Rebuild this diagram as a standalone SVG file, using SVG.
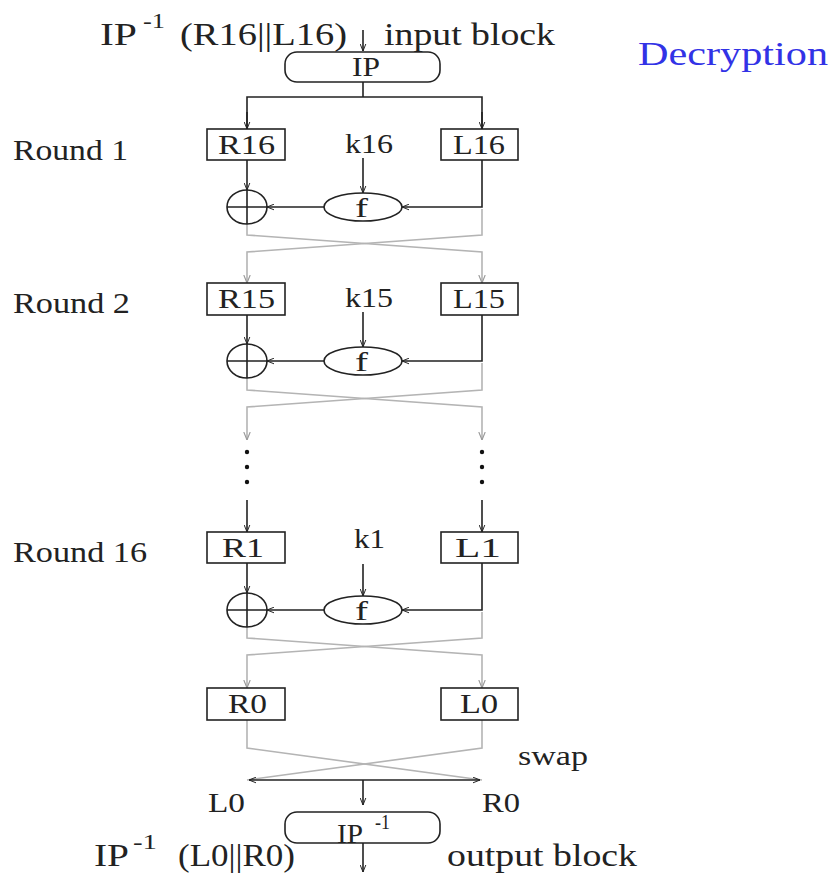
<svg xmlns="http://www.w3.org/2000/svg" width="834" height="880" viewBox="0 0 834 880">
<style>
text{font-family:"Liberation Serif","Times New Roman",serif;fill:#222;}
.t{font-size:32px;}
.r{font-size:30px;}
.b{font-size:28px;}
.s{font-size:20px;}
.blk{stroke:#222;stroke-width:1.6;fill:none;}
.gry{stroke:#b4b4b4;stroke-width:1.6;fill:none;}
.box{fill:#fff;stroke:#222;stroke-width:1.6;}
</style>
<defs>
<marker id="ab" viewBox="0 0 10 10" refX="10" refY="5" markerWidth="7" markerHeight="7" markerUnits="userSpaceOnUse" orient="auto-start-reverse">
<path d="M0,1 L10,5 L0,9" fill="none" stroke="#222" stroke-width="1.4"/>
</marker>
<marker id="ag" viewBox="0 0 10 10" refX="10" refY="5" markerWidth="8" markerHeight="8" markerUnits="userSpaceOnUse" orient="auto-start-reverse">
<path d="M0,1 L10,5 L0,9" fill="none" stroke="#999" stroke-width="1.4"/>
</marker>
</defs>

<g id="labels">
<text class="t" x="100" y="45" textLength="37" lengthAdjust="spacingAndGlyphs">IP</text>
<text class="s" x="143" y="28" textLength="22" lengthAdjust="spacingAndGlyphs">-1</text>
<text class="t" x="180" y="45" textLength="167" lengthAdjust="spacingAndGlyphs">(R16||L16)</text>
<text class="t" x="384" y="45" textLength="171" lengthAdjust="spacingAndGlyphs">input block</text>
<text class="t" x="638" y="65" textLength="190" lengthAdjust="spacingAndGlyphs" style="fill:#3232e6;font-size:33px">Decryption</text>
<text class="r" x="13" y="160" textLength="115" lengthAdjust="spacingAndGlyphs">Round 1</text>
<text class="r" x="13" y="313" textLength="117" lengthAdjust="spacingAndGlyphs">Round 2</text>
<text class="r" x="13" y="562" textLength="134" lengthAdjust="spacingAndGlyphs">Round 16</text>
<text class="b" x="518" y="765" textLength="70" lengthAdjust="spacingAndGlyphs">swap</text>
<text class="b" x="208" y="812" textLength="37" lengthAdjust="spacingAndGlyphs">L0</text>
<text class="b" x="482" y="812" textLength="38" lengthAdjust="spacingAndGlyphs">R0</text>
<text class="t" x="94" y="866" textLength="35" lengthAdjust="spacingAndGlyphs">IP</text>
<text class="s" x="133" y="849" textLength="24" lengthAdjust="spacingAndGlyphs">-1</text>
<text class="t" x="178" y="866" textLength="117" lengthAdjust="spacingAndGlyphs">(L0||R0)</text>
<text class="t" x="447" y="866" textLength="190" lengthAdjust="spacingAndGlyphs">output block</text>
</g>

<g id="connectors">
<line class="blk" x1="363" y1="30" x2="363" y2="51" marker-end="url(#ab)"/>
<polyline class="blk" points="363,82 363,97"/>
<polyline class="blk" points="247,129 247,97 482,97 482,129"/>
<line class="blk" x1="247" y1="112" x2="247" y2="129" marker-end="url(#ab)"/>
<line class="blk" x1="482" y1="112" x2="482" y2="129" marker-end="url(#ab)"/>
<line class="blk" x1="247" y1="160" x2="247" y2="190" marker-end="url(#ab)"/>
<line class="blk" x1="363" y1="158" x2="363" y2="193" marker-end="url(#ab)"/>
<polyline class="blk" points="482,160 482,207 402,207" marker-end="url(#ab)"/>
<line class="blk" x1="324" y1="207" x2="267" y2="207" marker-end="url(#ab)"/>
<polyline class="gry" points="247,224 247,235 482,252 482,283" marker-end="url(#ag)"/>
<polyline class="gry" points="482,209 482,235 247,252 247,283" marker-end="url(#ag)"/>
<line class="blk" x1="247" y1="315" x2="247" y2="344" marker-end="url(#ab)"/>
<line class="blk" x1="363" y1="312" x2="363" y2="347" marker-end="url(#ab)"/>
<polyline class="blk" points="482,315 482,361 402,361" marker-end="url(#ab)"/>
<line class="blk" x1="324" y1="361" x2="267" y2="361" marker-end="url(#ab)"/>
<polyline class="gry" points="247,378 247,390 482,407 482,440" marker-end="url(#ag)"/>
<polyline class="gry" points="482,363 482,390 247,407 247,440" marker-end="url(#ag)"/>
<circle cx="247" cy="452" r="2.2" fill="#111"/>
<circle cx="247" cy="467" r="2.2" fill="#111"/>
<circle cx="247" cy="482" r="2.2" fill="#111"/>
<circle cx="482" cy="452" r="2.2" fill="#111"/>
<circle cx="482" cy="467" r="2.2" fill="#111"/>
<circle cx="482" cy="482" r="2.2" fill="#111"/>
<line class="blk" x1="247" y1="500" x2="247" y2="532" marker-end="url(#ab)"/>
<line class="blk" x1="482" y1="500" x2="482" y2="532" marker-end="url(#ab)"/>
<line class="blk" x1="247" y1="563" x2="247" y2="593" marker-end="url(#ab)"/>
<line class="blk" x1="363" y1="564" x2="363" y2="596" marker-end="url(#ab)"/>
<polyline class="blk" points="482,563 482,610 402,610" marker-end="url(#ab)"/>
<line class="blk" x1="324" y1="610" x2="267" y2="610" marker-end="url(#ab)"/>
<polyline class="gry" points="247,627 247,638 482,655 482,688" marker-end="url(#ag)"/>
<polyline class="gry" points="482,612 482,638 247,655 247,688" marker-end="url(#ag)"/>
<polyline class="gry" points="247,720 247,748 482,780"/>
<polyline class="gry" points="482,720 482,748 247,780"/>
<line class="blk" x1="249" y1="780" x2="480" y2="780" marker-start="url(#ab)" marker-end="url(#ab)"/>
<line class="blk" x1="363" y1="780" x2="363" y2="805" marker-end="url(#ab)"/>
<line class="blk" x1="363" y1="843" x2="363" y2="872" marker-end="url(#ab)"/>
</g>

<g id="ip">
<rect class="box" x="285" y="52" width="155" height="30" rx="12"/>
<text class="b" x="352" y="76" textLength="28" lengthAdjust="spacingAndGlyphs">IP</text>
</g>
<g id="ipinv">
<rect class="box" x="285" y="812" width="155" height="31" rx="12"/>
<text class="b" x="337" y="843" textLength="26" lengthAdjust="spacingAndGlyphs">IP</text>
<text class="s" x="375" y="829" textLength="15" lengthAdjust="spacingAndGlyphs">-1</text>
</g>

<g id="r16"><rect class="box" x="207" y="129" width="78" height="31"/><text class="b" x="218" y="154" textLength="57" lengthAdjust="spacingAndGlyphs">R16</text></g>
<g id="l16"><rect class="box" x="441" y="129" width="77" height="31"/><text class="b" x="453" y="154" textLength="52" lengthAdjust="spacingAndGlyphs">L16</text></g>
<g id="k16"><text class="b" x="345" y="153" textLength="48" lengthAdjust="spacingAndGlyphs">k16</text></g>
<g id="f1"><ellipse class="box" cx="363" cy="207" rx="39" ry="14"/><text class="b" x="355" y="217" textLength="13" lengthAdjust="spacingAndGlyphs">f</text></g>
<g id="xor1"><ellipse class="box" cx="247" cy="207" rx="20" ry="17"/><path class="blk" d="M227,207 H267 M247,190 V224"/></g>

<g id="r15"><rect class="box" x="207" y="283" width="78" height="32"/><text class="b" x="218" y="308" textLength="57" lengthAdjust="spacingAndGlyphs">R15</text></g>
<g id="l15"><rect class="box" x="441" y="283" width="77" height="32"/><text class="b" x="453" y="308" textLength="52" lengthAdjust="spacingAndGlyphs">L15</text></g>
<g id="k15"><text class="b" x="345" y="307" textLength="48" lengthAdjust="spacingAndGlyphs">k15</text></g>
<g id="f2"><ellipse class="box" cx="363" cy="361" rx="39" ry="14"/><text class="b" x="355" y="371" textLength="13" lengthAdjust="spacingAndGlyphs">f</text></g>
<g id="xor2"><ellipse class="box" cx="247" cy="361" rx="20" ry="17"/><path class="blk" d="M227,361 H267 M247,344 V378"/></g>

<g id="r1"><rect class="box" x="207" y="532" width="78" height="31"/><text class="b" x="222" y="557" textLength="42" lengthAdjust="spacingAndGlyphs">R1</text></g>
<g id="l1"><rect class="box" x="441" y="532" width="77" height="31"/><text class="b" x="455" y="557" textLength="46" lengthAdjust="spacingAndGlyphs">L1</text></g>
<g id="k1"><text class="b" x="354" y="548" textLength="31" lengthAdjust="spacingAndGlyphs">k1</text></g>
<g id="f16"><ellipse class="box" cx="363" cy="610" rx="39" ry="14"/><text class="b" x="355" y="620" textLength="13" lengthAdjust="spacingAndGlyphs">f</text></g>
<g id="xor16"><ellipse class="box" cx="247" cy="610" rx="20" ry="17"/><path class="blk" d="M227,610 H267 M247,593 V627"/></g>

<g id="r0"><rect class="box" x="207" y="688" width="78" height="32"/><text class="b" x="228" y="713" textLength="39" lengthAdjust="spacingAndGlyphs">R0</text></g>
<g id="l0"><rect class="box" x="441" y="688" width="77" height="32"/><text class="b" x="460" y="713" textLength="38" lengthAdjust="spacingAndGlyphs">L0</text></g>
</svg>
